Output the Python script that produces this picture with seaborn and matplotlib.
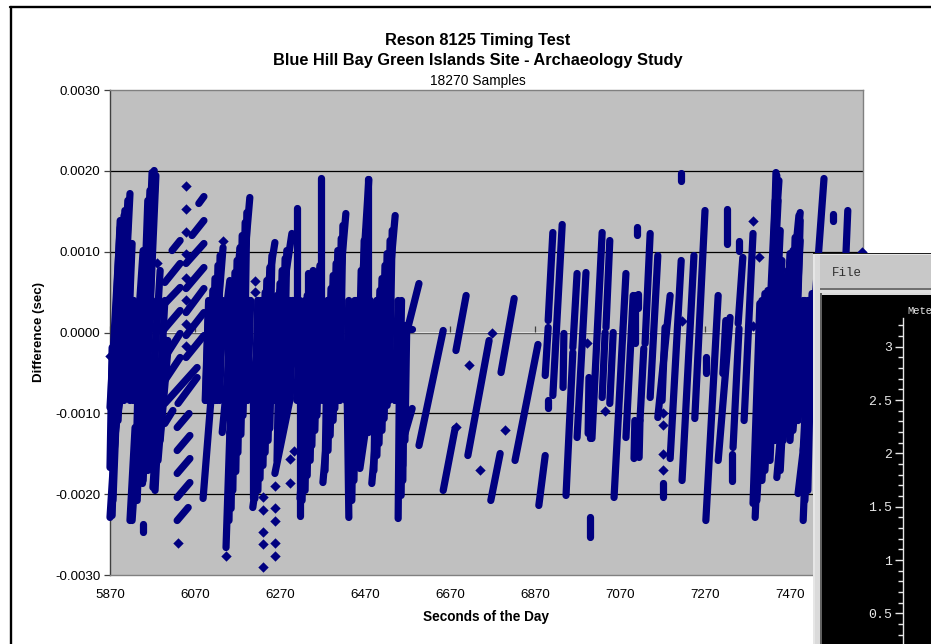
import numpy as np
import pandas as pd
import matplotlib
matplotlib.use("Agg")
import matplotlib.pyplot as plt
import seaborn as sns
from matplotlib.patches import Rectangle
from matplotlib.lines import Line2D

# Runs of samples: (sec start, microsec start, sec end, microsec end)
left_burst = [(5870,-2288,5886,-965),(5870,-1670,5875,-186),(5870,-928,5894,1299),(5894,-717,5917,1719),
 (5882,-755,5910,1509),(5912,-186,5922,1101),(5917,-2326,5929,-1175),(5924,-1992,5948,-507),
 (5945,-1868,5945,-755),(5929,-755,5974,2004),(5948,-346,5964,1757),(5941,-1175,5969,396),
 (5971,-1917,5995,-62),(5971,-1175,5992,-346),(5948,-2363,5948,-2474),
 (5875,-2264,5889,396),(5877,-2078,5903,1447),(5889,-1089,5912,1633),(5903,-841,5908,1262),
 (5922,-2326,5941,-841),(5934,-2078,5959,1633),(5941,-1831,5969,1979),(5955,-841,5978,1942),
 (5959,-1707,5983,396),(5976,-1954,5999,396),(5983,-1583,6006,-99),
 (5877,-594,5894,1385),(5889,-594,5905,1509),(5898,-841,5912,1385),(5910,-717,5919,1014),
 (5917,-841,5926,396),(5924,-841,5948,1014),(5877,-1695,5894,-346),(5882,-1212,5905,-470),
 (5929,-2078,5941,396),(5948,-1831,5969,1014),(5964,-1336,5988,767),(5959,396,5976,1855),
 (5971,-1707,5999,-99),(5988,-1336,6006,-223)]
slanted_a = [(6016,1014,6035,1138),(5999,619,6035,854),(5988,297,6035,557),(5995,25,6035,272),
 (5999,-309,6035,-12),(5999,-594,6035,-309),(5999,-878,6075,-433),(5999,-1126,6018,-965),
 (6028,-1175,6056,-1002),(6028,-1460,6058,-1274),(6028,-1744,6058,-1559),(6028,-2041,6058,-1856),
 (6028,-2326,6054,-2165)]
slanted_b = [(6079,1596,6091,1682),(6063,1200,6091,1385),(6049,854,6091,1101),(6049,544,6091,804),
 (6049,247,6091,544),(6049,-37,6091,247),(6049,-309,6091,-37),(6030,-878,6075,-557)]
dense_burst = [(6089,-2053,6136,1051),(6143,-2660,6152,-1237),(6152,-1237,6199,1670),(6134,-1237,6176,1039),
 (6206,-2165,6230,-1237),(6199,-816,6258,1113),(6206,-2053,6206,-408),(6258,-1744,6294,-816),
 (6228,-1237,6298,1225),(6317,-2264,6317,-408),(6310,-408,6310,1546),(6317,-2053,6364,829),
 (6371,-1856,6425,1472),(6366,-816,6366,1917),(6432,-2288,6428,-742),(6432,-2053,6479,1893),
 (6458,-1682,6522,619),(6486,-1868,6541,1447),(6548,-2301,6552,0),(6559,-1645,6564,87),
 (6477,-1237,6477,1893),(6336,495,6336,730),(6117,-841,6152,643),(6176,-841,6199,396),
 (6235,-594,6270,520),(6282,-717,6305,396),(6329,-841,6352,396),(6376,-717,6406,643),
 (6435,-717,6470,520),(6494,-594,6517,396),(6541,-841,6548,148),(6564,49,6581,49),
 (6571,62,6597,606),(6564,-1249,6581,-940)]
dense_core = [(6095,-841,6102,396),(6112,-841,6119,396),(6128,-841,6135,396),(6145,-841,6152,396),
 (6161,-841,6168,396),(6178,-841,6185,396),(6194,-841,6201,396),(6211,-841,6218,396),
 (6227,-841,6234,396),(6244,-841,6251,396),(6260,-841,6267,396),(6277,-841,6284,396),
 (6293,-841,6300,396),(6310,-841,6317,396),(6326,-841,6333,396),(6343,-841,6350,396),
 (6359,-841,6366,396),(6376,-841,6383,396),(6392,-841,6399,396),(6409,-841,6416,396),
 (6425,-841,6432,396),(6442,-841,6449,396),(6458,-841,6465,396),(6475,-841,6482,396),
 (6491,-841,6498,396),(6508,-841,6515,396),(6524,-841,6531,396),(6541,-841,6548,396),
 (6552,-841,6556,396)]
dense_upper = [(6181,-841,6188,1361),(6169,-841,6176,1051),(6157,-841,6164,742),
 (6239,-841,6246,804),(6228,-841,6235,495),(6216,-841,6223,186),
 (6275,-841,6282,915),(6263,-841,6270,606),(6251,-841,6258,297),
 (6341,-841,6348,767),(6327,-841,6334,458),(6315,-841,6322,148),
 (6407,-841,6414,1163),(6395,-841,6402,854),(6383,-841,6390,544),(6371,-841,6378,235),
 (6461,-841,6468,1138),(6447,-841,6454,396),(6432,-841,6439,87),
 (6522,-841,6529,1138),(6510,-841,6517,829),(6498,-841,6505,520),(6487,-841,6494,210),
 (6117,-841,6124,829),(6105,-841,6112,520),(6094,-841,6101,210),
 (6185,-841,6192,1484),(6174,-841,6181,1200),(6162,-841,6169,891),(6150,-841,6157,581),
 (6244,-841,6251,952),(6232,-841,6239,643),(6221,-841,6228,334),
 (6279,-841,6286,1014),(6268,-841,6275,767),(6256,-841,6263,458),
 (6348,-841,6355,643),(6334,-841,6341,520),(6319,-841,6326,272),
 (6411,-841,6418,1324),(6399,-841,6406,1014),(6388,-841,6395,705),(6376,-841,6383,396),
 (6465,-841,6472,1262),(6454,-841,6461,767),(6439,-841,6446,272),
 (6527,-841,6534,1262),(6515,-841,6522,977),(6503,-841,6510,668),(6491,-841,6498,359),
 (6122,-841,6129,952),(6110,-841,6117,668),(6098,-841,6105,359)]
dense_lower = [(6155,-2177,6162,396),(6166,-1720,6173,396),(6178,-1262,6185,396),(6190,-804,6197,396),
 (6218,-1954,6225,396),(6230,-1645,6237,396),(6242,-1336,6249,396),
 (6270,-1398,6277,396),(6282,-1089,6289,396),(6294,-816,6301,396),
 (6329,-1954,6336,396),(6341,-1583,6348,396),(6352,-1212,6359,396),(6364,-841,6371,396),
 (6383,-1460,6390,396),(6395,-1089,6402,396),(6406,-779,6413,396),
 (6444,-1831,6451,396),(6456,-1460,6463,396),(6468,-1089,6475,396),
 (6498,-1522,6505,396),(6510,-1212,6517,396),(6522,-903,6529,396),
 (6559,-1831,6562,0),(6564,-1336,6568,0),
 (6150,-2326,6157,396),(6159,-1954,6166,396),(6171,-1484,6178,396),(6183,-1027,6190,396),
 (6211,-2053,6218,396),(6223,-1806,6230,396),(6235,-1484,6242,396),(6246,-1187,6253,396),
 (6263,-1583,6270,396),(6275,-1237,6282,396),(6286,-965,6293,396),
 (6322,-2078,6329,396),(6334,-1769,6341,396),(6345,-1398,6352,396),(6357,-1027,6364,396),
 (6376,-1707,6383,396),(6388,-1274,6395,396),(6399,-940,6406,396),
 (6439,-2078,6446,396),(6449,-1645,6456,396),(6461,-1336,6468,396),(6475,-1237,6482,396),
 (6491,-1707,6498,396),(6503,-1373,6510,396),(6515,-1064,6522,396),(6555,-2016,6559,0)]
sparse_runs = [(6597,-1398,6654,25),(6684,-223,6708,458),(6654,-1954,6682,-1187),(6712,-1522,6762,-99),
 (6790,-495,6821,421),(6766,-2078,6788,-1497),(6823,-1583,6877,-148),(6879,-2140,6894,-1522),
 (6901,-841,6901,-940),(6894,-532,6901,62),(6901,148,6912,1237),(6912,-779,6934,1336),
 (6936,-680,6938,-12),(6943,-2016,6959,-247),(6959,-186,6969,730),(6969,-1299,6990,742),
 (6999,-2536,6999,-2288),(6995,-1249,6997,-557),(6999,-1311,6999,-841),(7004,-1311,7028,1237),
 (7037,62,7046,1138),(7028,-804,7035,0),(7046,-878,7054,0),(7056,-2041,7084,730),
 (7084,-1299,7101,458),(7103,-1559,7105,-1089),(7115,-1546,7117,-1089),(7117,-1089,7126,-198),
 (7129,-136,7141,1225),(7105,-136,7105,458),(7112,482,7112,309),(7110,1311,7110,1212),
 (7141,-804,7159,952),(7159,-1051,7188,458),(7169,-841,7176,62),(7171,-2041,7171,-1856),
 (7188,-1559,7214,891),(7216,-1831,7244,952),(7246,-1064,7270,1509),(7214,1979,7214,1880),
 (7272,-2326,7301,458),(7272,-309,7272,-507),(7301,-1583,7329,186),(7312,-507,7319,148),
 (7336,-1423,7350,49),(7334,-1831,7334,-1497),(7322,1101,7322,1534),(7350,1138,7350,1014),
 (7348,111,7359,928),(7362,-1089,7383,1225)]
right_burst = [(7388,-2288,7411,482),(7383,-2115,7399,359),(7399,-1794,7416,359),(7418,-1497,7437,1979),
 (7406,-1583,7430,482),(7439,-1794,7494,1484),(7454,-1051,7470,977),(7470,-1051,7482,1175),
 (7501,-2326,7522,482),(7489,-1992,7517,-755),(7529,396,7550,1905),(7571,1472,7571,1385),
 (7597,396,7606,1509),
 (7392,-2078,7418,520),(7404,-1831,7428,643),(7411,-1707,7442,1633),(7423,-1583,7447,1262),
 (7435,-1336,7458,396),(7447,-1707,7470,643),(7458,-1089,7482,891),(7470,-1336,7494,1138),
 (7482,-841,7494,1385),(7494,-841,7505,396),(7505,-2078,7522,-99),(7512,-1954,7522,396),
 (7388,-1831,7404,396),(7395,-1336,7413,458),(7418,-1460,7442,520),(7430,-1336,7451,891),
 (7442,-1212,7465,767),(7454,-1336,7477,1014),(7465,-1212,7489,1138),(7477,-1212,7501,396),
 (7489,-1089,7512,396),(7501,-1460,7517,148),(7411,-1089,7435,1633),(7423,-99,7439,1942),
 (7425,396,7444,1880),(7472,396,7491,1447)]

# Isolated samples
single_sec = [5870,5981,6030,6049,6049,6049,6049,6049,6049,6049,6049,6136,6143,6258,6258,6258,6258,6258,
 6230,6230,6230,6230,6230,6294,6303,6294,6211,6211,6684,6769,6715,6741,6799,6992,7035,
 7171,7171,7171,7171,7216,7383,7397,7383,7639]
single_us = [-285,854,-2598,1818,1534,1249,965,680,396,111,-173,1138,-2771,-1905,-2177,-2338,-2610,-2771,
 -2041,-2202,-2474,-2622,-2907,-1856,-1472,-1559,643,495,-1175,-12,-396,-1695,-1200,-124,-965,
 -1000,-1150,-1500,-1700,148,1385,928,80,990]

x_ticks = list(range(5870, 7471, 200))
y_ticks = [-0.003, -0.002, -0.001, 0.0, 0.001, 0.002, 0.003]
meter_labels = [3, 2.5, 2, 1.5, 1, 0.5]
meter_minor = [3.2, 3.1, 3.0, 2.9, 2.8, 2.7, 2.6, 2.5, 2.4, 2.3, 2.2, 2.1, 2.0, 1.9, 1.8, 1.7, 1.6,
               1.5, 1.4, 1.3, 1.2, 1.1, 1.0, 0.9, 0.8, 0.7, 0.6, 0.5, 0.4, 0.3]

W, H = 931, 644
NAVY = "#000080"
sns.set_theme(style="white")
plt.rcParams["font.family"] = ["Liberation Sans", "DejaVu Sans"]

fig = plt.figure(figsize=(W / 100, H / 100), dpi=100, facecolor="white")
def box(l, t, r, b):
    return [l / W, 1 - b / H, (r - l) / W, (b - t) / H]
ax = fig.add_axes(box(110, 90, 863, 575))
ax.set_facecolor("#C0C0C0")

runs = (left_burst + slanted_a + slanted_b + dense_burst + dense_core + dense_upper + dense_lower
        + sparse_runs + right_burst)
rows = []
for i, (x0, y0, x1, y1) in enumerate(runs):
    rows += [(i, x0, y0 / 1e6), (i, x1, y1 / 1e6)]
run_df = pd.DataFrame(rows, columns=["run", "sec", "diff"])
single_df = pd.DataFrame({"sec": single_sec, "diff": np.array(single_us) / 1e6})

ax.set_axisbelow(True)
ax.grid(False)
for v in y_ticks[1:-1]:
    if v != 0:
        ax.axhline(v, color="black", lw=0.9, zorder=1)
ax.axhline(0, color="#606060", lw=1.0, zorder=1)

sns.lineplot(data=run_df, x="sec", y="diff", units="run", estimator=None, sort=False, color=NAVY,
             lw=5.2, solid_capstyle="round", legend=False, ax=ax, zorder=3, clip_on=False)
sns.scatterplot(data=single_df, x="sec", y="diff", marker="D", s=28, color=NAVY, linewidth=0,
                legend=False, ax=ax, zorder=3, clip_on=False)

ax.set_xlim(5870, 5870 + 753 / 0.425)
ax.set_ylim(-0.003, 0.003)
ax.set_xticks(x_ticks)
ax.set_yticks(y_ticks)
ax.set_yticklabels([f"{v:.4f}" for v in y_ticks])
ax.tick_params(axis="x", length=0, labelsize=9.6, pad=10, colors="black")
ax.tick_params(axis="y", length=4, width=0.9, color="#404040", labelsize=9.6, pad=3, labelcolor="black", left=True)
ax.set_xlabel("")
ax.set_ylabel("")
for s, sp in ax.spines.items():
    sp.set_color("#808080")
    sp.set_linewidth(1.0)
ax.spines["left"].set_color("#404040")

sec = ax.secondary_xaxis(0.5)
sec.set_xticks(x_ticks)
sec.set_xticklabels([])
sec.tick_params(axis="x", length=4, width=0.9, color="#404040", direction="out")
sec.spines["bottom"].set_visible(False)
sec.spines["top"].set_visible(False)

fig.text(478 / W, 1 - 41 / H, "Reson 8125 Timing Test", ha="center", va="center", fontsize=11.8, fontweight="bold", color="black")
fig.text(478 / W, 1 - 61 / H, "Blue Hill Bay Green Islands Site - Archaeology Study", ha="center", va="center", fontsize=11.8, fontweight="bold", color="black")
fig.text(478 / W, 1 - 81 / H, "18270 Samples", ha="center", va="center", fontsize=9.9, color="black")
fig.text(486 / W, 1 - 617 / H, "Seconds of the Day", ha="center", va="center", fontsize=9.8, fontweight="bold", color="black")
fig.text(39 / W, 1 - 332 / H, "Difference (sec)", ha="center", va="center", rotation=90, fontsize=9.6, fontweight="bold", color="black")

# outer frame (open on the right and at the bottom)
fig.add_artist(Line2D([10.5 / W, 10.5 / W], [0, 1 - 7 / H], color="black", lw=1.7, transform=fig.transFigure, zorder=4))
fig.add_artist(Line2D([10 / W, 1], [1 - 7 / H, 1 - 7 / H], color="black", lw=1.7, transform=fig.transFigure, zorder=4))

# overlapping application window
def rect(l, t, r, b, c, z=5):
    fig.add_artist(Rectangle((l / W, 1 - b / H), (r - l) / W, (b - t) / H, facecolor=c, edgecolor="none",
                             transform=fig.transFigure, zorder=z))
rect(813, 253, 931, 644, "#E6E6E6")
rect(813, 252.5, 931, 254, "#202020")
rect(815, 255, 931, 644, "#DADADA")
rect(820, 255, 931, 288, "#C8C8C8")
rect(820, 288, 931, 290, "#707070")
rect(820, 290, 931, 293, "#E0E0E0")
rect(820, 293, 822, 644, "#606060")
fig.text(832 / W, 1 - 273 / H, "File", ha="left", va="center", family="Liberation Mono", fontsize=9, color="#303030", zorder=7)

mx = fig.add_axes(box(822, 295, 931, 644), zorder=6)
mx.set_facecolor("black")
mx.set_xlim(0, 1)
py_per_unit = 106.7
mx.set_ylim(3 - (644 - 346.7) / py_per_unit, 3 + (346.7 - 295) / py_per_unit)
for s in ["top", "right", "bottom"]:
    mx.spines[s].set_visible(False)
spine_x = (903 - 822) / (931 - 822)
mx.spines["left"].set_position(("axes", spine_x))
mx.spines["left"].set_color("#E8E8E8")
mx.spines["left"].set_linewidth(1.0)
mx.spines["left"].set_bounds(0.2, 3.27)
mx.set_xticks([])
mx.set_yticks(meter_labels)
mx.set_yticklabels([f"{v:g}" for v in meter_labels], family="Liberation Mono")
mx.set_yticks(meter_minor, minor=True)
mx.tick_params(axis="y", which="major", length=6, width=1, color="#E8E8E8", labelcolor="#E8E8E8", labelsize=9.5, pad=2, left=True)
mx.tick_params(axis="y", which="minor", length=3.5, width=1, color="#E8E8E8", left=True)
mx.text(907 / W, 1 - 311 / H, "Mete", transform=fig.transFigure, ha="left", va="center",
        family="Liberation Mono", fontsize=7.6, color="#E8E8E8")

fig.savefig("out.png", dpi=100, facecolor="white")
